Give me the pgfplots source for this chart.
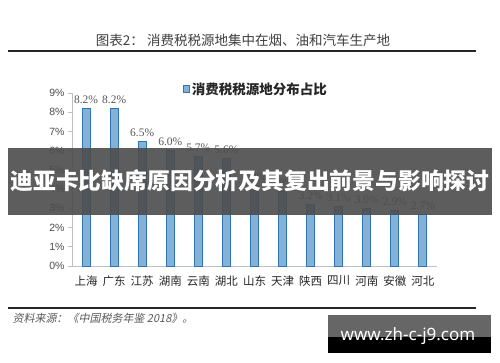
\documentclass[border=0pt]{standalone}
\usepackage{pgfplots}
\pgfplotsset{compat=1.18}
\usepackage{fontspec}
\setmainfont{Liberation Serif}
\newfontfamily\cjk{Noto Sans CJK SC}
\newfontfamily\cjkit{Noto Sans CJK SC}[FakeSlant=0.2]
\newfontfamily\sans{Liberation Sans}
\newfontfamily\notosans{Noto Sans}
\definecolor{barfill}{HTML}{86B1D6}
\definecolor{baredge}{HTML}{2E75B6}
\definecolor{axgray}{HTML}{BFBFBF}
\begin{document}
\begin{tikzpicture}[x=1pt,y=1pt]
\path[use as bounding box] (0,0) rectangle (500,362);
\fill[white] (0,0) rectangle (500,362);
\node[font=\cjk\fontsize{13.5}{14}\selectfont, text=black!75] at (243,322) {图表2：\ 消费税税源地集中在烟、油和汽车生产地};
\draw[line width=1.4pt, black!85] (8,311) -- (476,311);
\begin{axis}[
  at={(72pt,96pt)}, anchor=south west,
  width=365pt, height=173pt, scale only axis,
  xmin=-0.5, xmax=12.5, ymin=0, ymax=9,
  axis x line*=bottom, axis y line*=left,
  axis line style={axgray, line width=0.8pt},
  ytick={0,1,...,9},
  yticklabel={\pgfmathprintnumber{\tick}\%},
  yticklabel style={font=\sans\fontsize{10.5}{10}\selectfont, text=black!70},
  /pgf/number format/assume math mode=true,
  ytick style={axgray, line width=0.8pt},
  tick align=outside, major tick length=4pt,
  xtick={0,1,...,12},
  xticklabels={上海,广东,江苏,湖南,云南,湖北,山东,天津,陕西,四川,河南,安徽,河北},
  xticklabel style={font=\cjk\fontsize{11.5}{12}\selectfont, text=black!85, yshift=-2pt},
  xtick style={draw=none},
  extra x ticks={-0.5,0.5,...,12.5},
  extra x tick labels={},
  extra x tick style={xtick style={axgray, line width=0.8pt}, major tick length=4pt},
  ybar, bar width=8pt,
  nodes near coords={\pgfmathprintnumber[fixed,fixed zerofill,precision=1]{\pgfplotspointmeta}\%},
  nodes near coords style={font=\fontsize{11.5}{11}\selectfont, text=black!65, yshift=1pt},
  legend style={at={(0.504,1.023)}, anchor=center, draw=none, fill=none,
    font=\cjk\bfseries\fontsize{13.5}{14}\selectfont, text=black!85},
  legend image code/.code={\draw[fill=barfill, draw=baredge] (0pt,-3.5pt) rectangle (6pt,3.5pt);},
]
\addplot[fill=barfill, draw=baredge, line width=1pt] coordinates {
 (0,8.2) (1,8.2) (2,6.5) (3,6.0) (4,5.7) (5,5.6) (6,4.2) (7,3.9) (8,3.2) (9,3.1) (10,3.0) (11,2.9) (12,2.7)};
\addlegendentry{消费税税源地分布占比}
\end{axis}
\draw[line width=1.4pt, black!85] (8,54) -- (476,54);
\node[anchor=west, font=\cjkit\fontsize{11}{11}\selectfont, text=black!65] at (9,44) {资料来源：《中国税务年鉴 2018》。};
% overlay banner
\fill[black!70, opacity=0.9] (8,147) rectangle (492,214);
\node[font=\cjk\bfseries\fontsize{22.8}{23}\selectfont, text=white] at (250,181) {迪亚卡比缺席原因分析及其复出前景与影响探讨};
% watermark
\fill[black!60] (328,25) rectangle (491,47);
\fill[black] (328,9) rectangle (491,25);
\node[font=\notosans\bfseries\fontsize{17}{17}\selectfont, text=white] at (408,26) {www.zh-c-j9.com};
\end{tikzpicture}
\end{document}
